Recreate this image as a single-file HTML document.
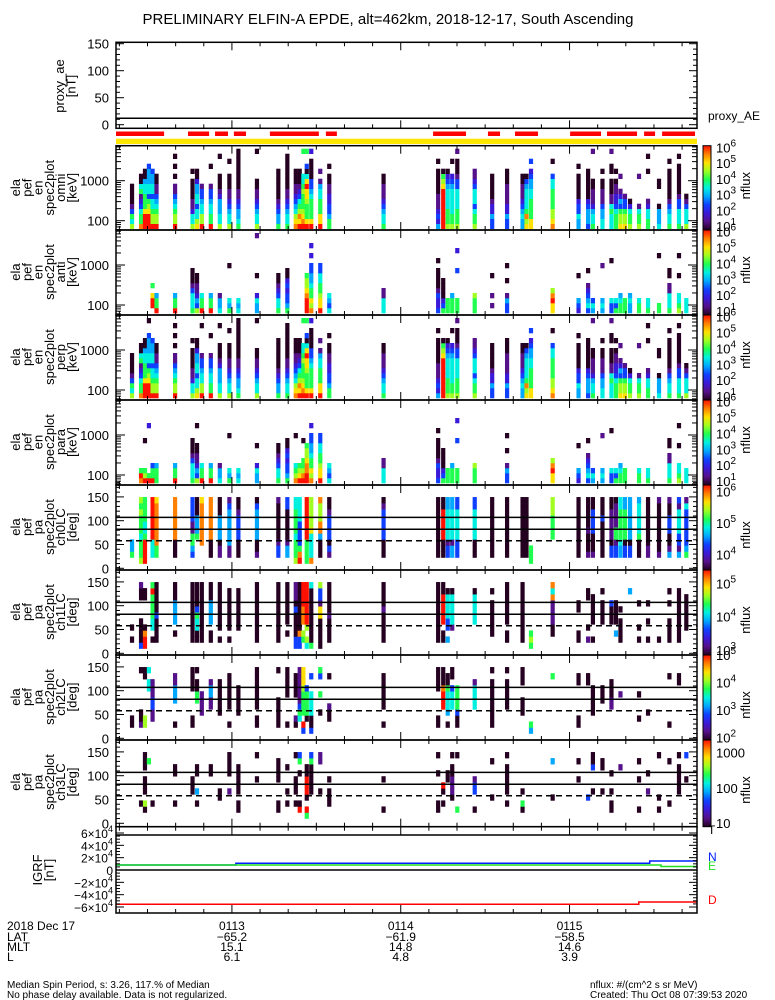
<!DOCTYPE html>
<html><head><meta charset="utf-8"><title>ELFIN-A EPDE</title>
<style>
html,body{margin:0;padding:0;background:#fff;}
svg{display:block;font-family:"Liberation Sans",sans-serif;}
</style></head>
<body>
<svg id="chart" width="775" height="1000" viewBox="0 0 775 1000" xmlns="http://www.w3.org/2000/svg">
<defs>
<linearGradient id="cmap" x1="0" y1="1" x2="0" y2="0">
<stop offset="0" stop-color="#250020"/><stop offset="0.1" stop-color="#55118a"/><stop offset="0.2" stop-color="#3a1ad8"/>
<stop offset="0.3" stop-color="#1040ff"/><stop offset="0.4" stop-color="#00a8ff"/><stop offset="0.5" stop-color="#00f0e0"/>
<stop offset="0.6" stop-color="#20ff50"/><stop offset="0.7" stop-color="#a0ff20"/><stop offset="0.8" stop-color="#ffe000"/>
<stop offset="0.9" stop-color="#ff8000"/><stop offset="1" stop-color="#ff1000"/>
</linearGradient>
</defs>
</svg>
<script>
// ---------- data ----------
const colTimes = [24.5,27.7,29.1,30.5,31.8,33.2,39.8,46.0,47.6,49.3,52.5,55.7,59.1,62.3,68.9,76.5,79.7,82.7,84.1,85.4,86.6,88.2,91.4,94.6,113.9,133.3,135.1,136.7,138.3,140.1,146.3,152.5,157.8,163.3,164.7,166.3,174.0,183.2,186.6,188.3,191.7,194.9,196.5,198.1,199.7,201.5,204.7,207.9,211.8,215.5,218.9,221.5];
const omniCols = [[1,"756310000......."],[2,"96653216500....."],[3,"AAA866655400...."],[4,"AAA8763554443..."],[5,"A77655355443...."],[6,"A7765431100....."],[7,"A77654311.0.0.0."],[8,"7552110000.0...."],[9,"875535544200...."],[10,"A77554331......."],[11,"A66554331...0..."],[12,"75544421000...0."],[13,"75543211000..0.."],[14,"6544321100000000"],[15,"7554321100.....0"],[16,"644321000000...."],[17,"655432110000000."],[18,"987543211000...."],[19,"A89765321000...."],[20,"A9876667655....6"],[21,"A8666788A8503..6"],[22,"A8666654330000.2"],[23,"A886665541.1...."],[24,"66433221100.0..."],[25,"65543211100....."],[26,"423211100000.0.."],[27,"AAAAAAAA8760...."],[28,"766655554320...."],[29,"76655555432..0.."],[30,"76665555331000.1"],[31,"766535553211...."],[32,"33422100000....."],[33,"334221111000...."],[34,"44543211100....."],[35,"87965555430....."],[36,"886666554432.3.."],[37,"98776666553..0.."],[38,"44533200000.0..."],[39,"344432000000...."],[40,"6554211100.....1"],[41,"5544311100.0...."],[42,"5556511000.00..1"],[43,"6665322110.0...."],[44,"87763421..1....."],[45,"8776331........."],[46,"766520.........."],[47,"76651.....1....."],[48,"665521.....0..0."],[49,"54440...00......"],[50,"655431000000.0.."],[51,"6555331000000.0."],[52,"7555310........."]];
const antiCols = [[5,".AA8.6.........."],[6,"A664............"],[7,"A664............"],[8,"655531000......."],[9,"73421100........"],[10,"A665............"],[11,"A664............"],[12,"5441............"],[13,"645......0......"],[14,"545............."],[15,"4452...0.......1"],[16,"65532100........"],[17,"643323200......."],[21,"AAA98776........"],[22,"9786654433.2.2.."],[23,"A887665533......"],[24,"5345............"],[25,"55511..........."],[26,"322310000.0....."],[27,"6320000........."],[28,"666............."],[29,"6664............"],[30,"666.....3...2..."],[31,"6667............"],[32,".1.1...0........"],[33,"3341..0..0......"],[37,"88A97..........."],[38,"234....0........"],[39,"354321..0......."],[40,"453............."],[41,"454......1......"],[42,"335.......0....."],[43,"635............."],[44,"6654............"],[45,"666............."],[46,"4454............"],[47,"665............."],[48,"655............."],[49,"66.........0...."],[50,"655511.00......."],[51,"7655...0...0...."],[52,"555............."]];
const perpCols = [[1,"756310000......."],[2,"96653216500....."],[3,"AAA866655400...."],[4,"AAA8763554443..0"],[5,"A77655355443...."],[6,"A7765431100....."],[7,"A77654311.0.0.0."],[8,"7552110000.0...."],[9,"875535544200...."],[10,"A77554331.....0."],[11,"A66554331...0..."],[12,"75544421000...0."],[13,"75543211000..0.."],[14,"6544321100000000"],[15,"7554321100.....0"],[16,"644321000000...."],[17,"655432110000000."],[18,"987543211000...."],[19,"A89765321000...."],[20,"A9876667655....6"],[21,"A8666788A8503..6"],[22,"A8666654330000.2"],[23,"A886665541.1...."],[24,"66433221100.0..."],[25,"65543211100....."],[26,"423211100000.0.."],[27,"AAAAAAAA8760...."],[28,"766655554320...."],[29,"76655555432..0.."],[30,"76665555331000.1"],[31,"766535553211...."],[32,"33422100000....."],[33,"334221111000...."],[34,"44543211100....."],[35,"87965555430....."],[36,"886666554432.3.."],[37,"98776666553..0.."],[38,"44533200000.0..."],[39,"344432000000...."],[40,"6554211100.....1"],[41,"5544311100.0...."],[42,"5556511000.00..1"],[43,"6665322110.0...."],[44,"87763421..1....."],[45,"8776331........."],[46,"766520.........."],[47,"76651.....1....."],[48,"665521.....0..0."],[49,"54440...00......"],[50,"655431000000.0.."],[51,"6555331000000.0."],[52,"7555310........."]];
const paraCols = [[2,"9A6............."],[3,"A76.....0......."],[4,"A6.........2...."],[5,"A663............"],[6,"6664............"],[7,"A664............"],[8,"655531000......."],[9,"73421100...0...."],[10,"A665............"],[11,"A664............"],[12,"5441............"],[13,"645......0......"],[14,"545............."],[15,"4452...0........"],[16,"65532100........"],[17,"643323200......."],[18,"9765.....0......"],[19,"A876............"],[20,"A9766...0......."],[21,"AA998776........"],[22,"9786654433.2...."],[23,"A887665533......"],[24,"5345............"],[25,"55511..........."],[26,"322310000.0....."],[27,"6320000........."],[28,"666............."],[29,"6664............"],[30,"666.....3...2..."],[31,"6667............"],[33,"3341..0..0......"],[37,"88A97..........."],[38,"234....0........"],[39,"354321..0......."],[40,"453............."],[41,"454......1......"],[42,"335.......0....."],[43,"635............."],[44,"6654............"],[45,"666............."],[47,"665............."],[48,"655............."],[50,"655511.00......."],[51,"7655...0...0...."],[52,"555............."]];
const ch0Cols = [[1,".644......."],[2,"76665666767"],[3,"AAAA6556666"],[5,".555AAAAAAA"],[6,".6699999998"],[7,".0009999999"],[8,".3466113333"],[9,"....6444000"],[10,"...99999998"],[11,".0009999999"],[12,".1104444000"],[13,".1144444431"],[14,".0003333100"],[15,".1004444430"],[16,".3310000001"],[17,".4410000033"],[18,"76665666655"],[19,"A9633335555"],[21,"6666AAAAAAA"],[22,"95555877777"],[23,".0004997779"],[24,".1303333100"],[25,".0003333310"],[26,".0000000000"],[27,".000AAAAA00"],[28,".3315555544"],[29,".4415555544"],[30,".3335555533"],[31,".0005555533"],[32,".0000000000"],[33,".0000000000"],[34,".0000000000"],[35,".0000000000"],[36,"666........"],[37,"....6666777"],[38,".0000000000"],[39,".1000100000"],[40,".1000333300"],[41,".0000003000"],[42,".3301111100"],[43,".3316611110"],[44,".4456666655"],[45,".3306666644"],[46,".3304444444"],[47,".0006555554"],[48,".1100000000"],[49,".1000000001"],[50,".4100333001"],[51,".4133555513"],[52,".6433333351"]];
const ch1Cols = [[1,".0.0......."],[2,"30000...001"],[3,"AA90....00."],[5,".0.556666A6"],[6,".0000300000"],[7,"..0.4444000"],[8,".0000000000"],[9,".0055630000"],[10,".0000000000"],[11,".00.4444000"],[12,".0.00000000"],[13,".0.0000000."],[14,"...0000000."],[15,".0000000000"],[16,".0000000000"],[17,"..0.0000000"],[18,"33000030111"],[19,"33900000000"],[20,".67.999AAAA"],[21,"57.7AAAAAAA"],[22,"60000000005"],[23,"00000881337"],[24,".0000100000"],[25,".0000010000"],[26,".0000000000"],[27,".00.AAAAA00"],[28,".4.3355550."],[29,"...1555550."],[31,"....555550."],[32,"..000000.0."],[33,".00.0000000"],[34,".0000000000"],[36,"676........"],[37,"..001111959"],[38,".00...00..."],[39,".1.0....00."],[40,".0..00000.."],[41,"....0000.0."],[42,"....0003..."],[43,"..4.0000..."],[44,".0000.0...."],[46,".........4."],[47,".0.0...0..."],[48,".0..0..0..."],[49,".0........."],[50,".0000..0.0."],[51,".000000000."],[52,"...000000.."]];
const ch2Cols = [[1,".00........"],[2,".100......0"],[3,".77......00"],[4,".......55.5"],[5,"..1133111.."],[7,".0...44411."],[8,".00....0000"],[9,".....6600.0"],[10,"...1111...."],[11,"....11441.."],[12,"...000000.."],[13,".0..000000."],[14,"...00000..."],[15,".00.0000000"],[16,".00000....0"],[17,".0....00000"],[18,".01...0000."],[19,"..563111111"],[20,"3A.66667888"],[21,"..066663..."],[22,"3005555..3."],[23,"...0..6..36"],[24,"..001....0."],[25,".0..000000."],[26,".00....0000"],[27,"....AAA9000"],[28,".0.4555600."],[29,"....5553.00"],[30,".0036666..."],[31,"....55551.."],[32,".00000000.0"],[33,"....00000.0"],[34,"...000..000"],[36,"46........."],[37,".........6."],[38,".00.....00."],[39,"........00."],[40,"...00000..."],[41,".....000..."],[42,"....11000.."],[44,"......1...."],[47,"..0...0...."],[48,"...0......."],[50,".0.......0."],[51,"........00."]];
const ch3Cols = [[2,"..0........"],[3,".07.000.000"],[4,".........6."],[5,"..0........"],[7,"..0....00.."],[8,"....000...."],[9,"..0.4..00.."],[11,".......00.."],[12,"...00......"],[13,"....1..0000"],[14,".00.00000.."],[15,"......0...0"],[16,".00...0000."],[17,"..0.0...0.."],[18,"..0.000...0"],[19,".A0....0.63"],[21,"6A.0AAA00.."],[22,"....0000063"],[23,"....0....11"],[24,"..000.0...."],[25,".0....0...."],[26,".00....0..0"],[27,"..0.0A....."],[28,"......00..."],[29,"...011100.0"],[30,".6........0"],[31,".0..331...."],[32,"...0.....0."],[33,"..0.00000.0"],[34,".06.0......"],[37,"...0.....4."],[38,"......0..0."],[39,"...3......."],[40,"....0...300"],[41,"....0...00."],[42,".00.0..0..."],[44,"........1.."],[47,".0....0..0."],[48,"....1..0..."],[49,".0.0......0"],[50,"..0......0."],[51,"....00000.0"],[52,"......0...3"]];
const levelColors = ["#250020","#55118a","#3a1ad8","#1040ff","#00a8ff","#00f0e0","#20ff50","#a0ff20","#ffe000","#ff8000","#ff1000"];
const redBarStart = [18.8, 44.4, 54.0, 60.7, 73.5, 93.4, 131.5, 151.0, 160.6, 180.2, 193.3, 206.5, 212.9];
const redBarEnd   = [35.9, 51.9, 58.6, 65.0, 90.9, 97.3, 143.2, 155.3, 168.8, 191.2, 204.0, 210.4, 224.6];
const aeTimes = [18.8, 225.3];
const aeValues = [12, 12];
const igrfTimes = [18.8, 61.4, 204.6, 208.5, 212.5, 225.3];
const igrfT = [56757, 56757, 56757, 56757, 56757, 56757];
const igrfN = [8108, 10865, 10865, 14595, 14595, 14595];
const igrfE = [8108, 8108, 8108, 8108, 5676, 5676];
const igrfD = [-55620, -55620, -51890, -51890, -51890, -51890];
const timeTickMinutes = ["0113","0114","0115"];
const timeTickSec = [60, 120, 180];
const latLabels = ["-65.2","-61.9","-58.5"];
const mltLabels = ["15.1","14.8","14.6"];
const lLabels = ["6.1","4.8","3.9"];

// ---------- helpers ----------
const NS='http://www.w3.org/2000/svg';
const svg=document.getElementById('chart');
function mk(tag, attrs, parent){const e=document.createElementNS(NS,tag);for(const k in attrs)e.setAttribute(k,attrs[k]);(parent||svg).appendChild(e);return e;}
const X0=116, X1=697, T0=18.8, T1=225.3;
function xs(t){return X0+(t-T0)/(T1-T0)*(X1-X0);}
const CW=4.2;
function lvl(ch){return ch==='A'?10:parseInt(ch,10);}

// title
let e=mk('text',{x:388,y:24,'text-anchor':'middle','font-size':'15'});
e.textContent='PRELIMINARY ELFIN-A EPDE, alt=462km, 2018-12-17, South Ascending';



function timeTicks(top,bot){
  for(let t=20;t<=225;t+=10){
    const x=xs(t); const major=(t%60===0);const L=major?8:4;
    let a=mk('line',{x1:x,x2:x,y1:top,y2:top+L,stroke:'#000','stroke-width':1});
    
    
    let b=mk('line',{x1:x,x2:x,y1:bot,y2:bot-L,stroke:'#000','stroke-width':1});
    
    
  }
}
function frame(top,bot,name){
  let r=mk('rect',{x:X0,y:top,width:X1-X0,height:bot-top,fill:'none',stroke:'#000','stroke-width':1.5});
  
  
  timeTicks(top,bot);
}
function ytick(y,len,name){
  let a=mk('line',{x1:X0,x2:X0+len,y1:y,y2:y,stroke:'#000','stroke-width':1});
  
  
  let b=mk('line',{x1:X1,x2:X1-len,y1:y,y2:y,stroke:'#000','stroke-width':1});
  
  
}
function ylabel(txt,y,name){
  let t=mk('text',{x:109,y:y+5,'text-anchor':'end','font-size':'13'});
  t.textContent=txt;
  
  
}
function sideLabel(lines,yc,xlast,name){
  const g=mk('g',{});
  
  
  const n=lines.length;
  lines.forEach((s,i)=>{
    const xc=xlast-(n-1-i)*11.3;
    let t=mk('text',{x:xc+4.5,y:yc,'text-anchor':'middle','font-size':'13',transform:`rotate(-90 ${xc+4.5} ${yc})`},g);
    t.textContent=s;
    
    
  });
}
function colorbar(top,h,cbMin,cbMax,ticks,usePow,nfluxY,name){
  let r=mk('rect',{x:703,y:top,width:8,height:h,fill:'url(#cmap)',stroke:'#000','stroke-width':1});
  
  
  ticks.forEach(L=>{
    const y=top+h*(cbMax-L)/(cbMax-cbMin);
    let t=mk('text',{x:716,y:y+5,'font-size':'13'});
    if(usePow){t.textContent='10';let s=mk('tspan',{dy:-6,'font-size':'10'},t);s.textContent=String(L);}
    else t.textContent=String(Math.round(Math.pow(10,L)));
    
    
  });
  let nf=mk('text',{x:750,y:nfluxY,'text-anchor':'middle','font-size':'13',transform:`rotate(-90 750 ${nfluxY})`});
  nf.textContent='nflux';
  
  
}

// ---------- proxy AE panel ----------
const aeTop=42.3, aeBot=128.3;
function aeY(v){return 124.7-v*0.54;}
let aeLine=mk('polyline',{points:aeTimes.map((t,i)=>xs(t)+','+aeY(aeValues[i])).join(' '),fill:'none',stroke:'#000','stroke-width':1.5});


frame(aeTop,aeBot,'proxy-ae-panel');
for(let v=0;v<=150;v+=10){ytick(aeY(v),v%50===0?8:4,'ae-y-tick');}
[0,50,100,150].forEach(v=>ylabel(String(v),aeY(v),'ae-y-tick-label'));
sideLabel(['proxy_ae','[nT]'],86,71,'proxy-ae-axis-title');
e=mk('text',{x:708,y:120,'font-size':'12'});
e.textContent='proxy_AE';



// status bars
redBarStart.forEach((s,i)=>{
  let r=mk('rect',{x:xs(s),y:131.5,width:xs(redBarEnd[i])-xs(s),height:4.5,fill:'#ff0000'});
  
  
});
e=mk('rect',{x:X0,y:138.7,width:X1-X0,height:5.3,fill:'#ffe600'});



// ---------- energy panels ----------
const ePanels=[{top:145.7,cols:omniCols,lab:'omni',name:'omni-spectrogram'},{top:230,cols:antiCols,lab:'anti',name:'anti-spectrogram'},{top:315,cols:perpCols,lab:'perp',name:'perp-spectrogram'},{top:400,cols:paraCols,lab:'para',name:'para-spectrogram'}];
ePanels.forEach((p,pi)=>{
  const top=p.top, bot=(pi<3?ePanels[pi+1].top:485);
  const ey=L=>top+75-(L-2)*40;
  const g=mk('g',{});
  
  
  p.cols.forEach(([ci,str])=>{
    const x=xs(colTimes[ci-1])-CW/2;
    for(let b=0;b<str.length&&b<16;b++){
      const ch=str[b]; if(ch==='.')continue;
      const y1=ey(1.8+(b+1)*0.125), y0=ey(1.8+b*0.125);
      let r=mk('rect',{x:x,y:y1,width:CW,height:y0-y1+0.3,fill:levelColors[lvl(ch)]},g);
      
      
    }
  });
  frame(top,bot,p.name);
  [60,70,80,90,100,200,300,400,500,600,700,800,900,1000,2000,3000,4000,5000,6000,7000].forEach(v=>{
    const y=ey(Math.log10(v)); if(y<top||y>bot)return;
    ytick(y,(v===100||v===1000)?9:5,'energy-tick');
  });
  ylabel('100',ey(2),'energy-tick-label');
  ylabel('1000',ey(3),'energy-tick-label');
  sideLabel(['ela','pef','en','spec2plot',p.lab,'[keV]'],top+42,72,p.name+'-axis-title');
  colorbar(top,bot-top,0.75,6.1,[6,5,4,3,2,1],true,top+40,p.name+'-colorbar');
});

// ---------- pitch-angle panels ----------
const paPanels=[{top:485,cols:ch0Cols,lab:'ch0LC',cb:[3.5,6.2,[6,5,4]],name:'ch0-pa-spectrogram'},{top:570,cols:ch1Cols,lab:'ch1LC',cb:[2.85,5.4,[5,4,3]],name:'ch1-pa-spectrogram'},{top:655,cols:ch2Cols,lab:'ch2LC',cb:[1.9,5.0,[5,4,3,2]],name:'ch2-pa-spectrogram'},{top:740,cols:ch3Cols,lab:'ch3LC',cb:[0.9,3.35,[3,2,1]],name:'ch3-pa-spectrogram'}];
paPanels.forEach((p,pi)=>{
  const top=p.top, bot=top+85+(pi===3?1.7:0);
  const py=d=>top+83.3-d*0.476;
  const g=mk('g',{});
  
  
  p.cols.forEach(([ci,str])=>{
    const x=xs(colTimes[ci-1])-CW/2;
    for(let b=0;b<str.length&&b<11;b++){
      const ch=str[b]; if(ch==='.')continue;
      const y1=py(10+(b+1)*12.7), y0=py(10+b*12.7);
      let r=mk('rect',{x:x,y:y1,width:CW,height:y0-y1+0.3,fill:levelColors[lvl(ch)]},g);
      
      
    }
  });
  [107,82].forEach(d=>{
    let l=mk('line',{x1:X0,x2:X1,y1:py(d),y2:py(d),stroke:'#000','stroke-width':1.5});
    
    
  });
  let dl=mk('line',{x1:X0,x2:X1,y1:py(58),y2:py(58),stroke:'#000','stroke-width':1.5,'stroke-dasharray':'6,4'});
  
  
  frame(top,bot,p.name);
  for(let d=0;d<=180;d+=10){ytick(py(d),d%50===0?8:4,'pa-tick');}
  [0,50,100,150].forEach(d=>ylabel(String(d),py(d),'pa-tick-label'));
  sideLabel(['ela','pef','pa','spec2plot',p.lab,'[deg]'],top+42,72,p.name+'-axis-title');
  colorbar(top,bot-top,p.cb[0],p.cb[1],p.cb[2],pi<3,top+50,p.name+'-colorbar');
});

// ---------- IGRF panel ----------
const gTop=826.7, gBot=913;
const gy=v=>870-v*37/60000;
function step(vals,color,name){
  let pts=[];
  for(let i=0;i<igrfTimes.length;i++){
    if(i>0)pts.push(xs(igrfTimes[i])+','+gy(vals[i-1]));
    pts.push(xs(igrfTimes[i])+','+gy(vals[i]));
  }
  let l=mk('polyline',{points:pts.join(' '),fill:'none',stroke:color,'stroke-width':1.5});
  
  
}
step(igrfT,'#000','igrf-total-line');
step(igrfN,'#0020ff','igrf-north-line');
step(igrfE,'#20e020','igrf-east-line');
step(igrfD,'#ff0000','igrf-down-line');
e=mk('line',{x1:X0,x2:X1,y1:gy(0),y2:gy(0),stroke:'#000','stroke-width':1.5});


frame(gTop,gBot,'igrf-panel');
for(let v=-60000;v<=60000;v+=5000){ytick(gy(v),v%20000===0?8:4,'igrf-tick');}
[60000,40000,20000,0,-20000,-40000,-60000].forEach(v=>{
  let t=mk('text',{x:113,y:gy(v)+5,'text-anchor':'end','font-size':'12'});
  if(v===0){t.textContent='0';}
  else{t.textContent=(v<0?'\u2212':'')+Math.abs(v/10000)+'\u00d710';let s=mk('tspan',{dy:-6,'font-size':'9'},t);s.textContent='4';}
  
  
});
sideLabel(['IGRF','[nT]'],870,49,'igrf-axis-title');
[['T','#000',834],['N','#0020ff',861],['E','#20e020',870],['D','#ff0000',904]].forEach(([s,c,y])=>{
  let t=mk('text',{x:708,y:y,'font-size':'12',fill:c});
  t.textContent=s;
  
  
});

// ---------- time labels ----------
[['2018 Dec 17',930],['LAT',941],['MLT',951],['L',961]].forEach(([s,y])=>{
  let t=mk('text',{x:7,y:y,'font-size':'12'});
  t.textContent=s;
  
  
});
timeTickSec.forEach((ts,i)=>{
  const x=xs(ts);
  [[timeTickMinutes[i],930],[latLabels[i].replace('-','\u2212'),941],[mltLabels[i],951],[lLabels[i],961]].forEach(([s,y])=>{
    let t=mk('text',{x:x,y:y,'text-anchor':'middle','font-size':'12'});
    t.textContent=s;
    
    
  });
});

// ---------- footer ----------
[['Median Spin Period, s: 3.26, 117.% of Median',7,988],['No phase delay available. Data is not regularized.',7,998],['nflux: #/(cm^2 s sr MeV)',590,988],['Created: Thu Oct 08 07:39:53 2020',590,998]].forEach(([s,x,y])=>{
  let t=mk('text',{x:x,y:y,'font-size':'10'});
  t.textContent=s;
  
  
});
</script>
</body></html>
